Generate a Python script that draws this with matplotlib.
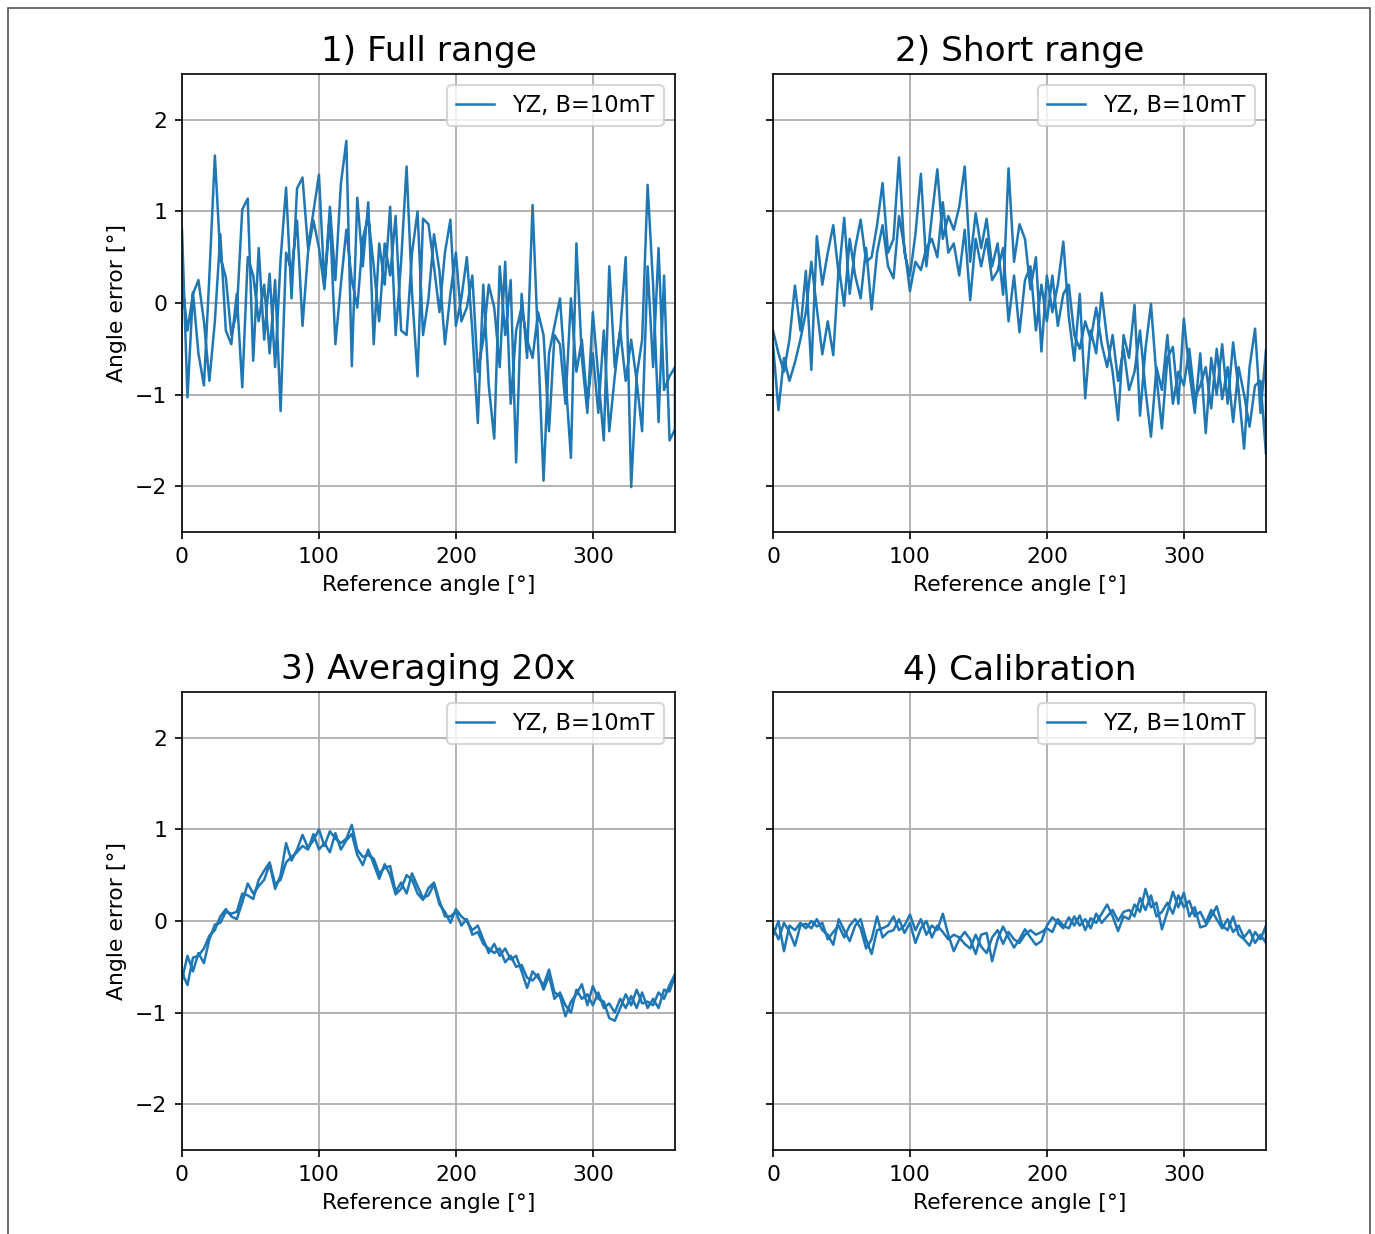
import numpy as np
import matplotlib.pyplot as plt
from matplotlib.patches import Rectangle

# reference angle grid of one sweep (deg)
angles = list(range(0, 361, 4))

# 1) full range: forward sweep / return sweep (return stored in ascending angle order)
full_fwd = [0.80, -1.03, 0.12, -0.55, -0.90, 0.30, 1.61, 0.50, 0.28, -0.35,
            -0.10, 1.02, 1.14, -0.63, 0.60, -0.40, 0.32, -0.70, 0.48, 1.26,
            0.05, 1.25, 1.37, 0.60, 1.00, 1.40, 0.20, 1.05, 0.25, 1.30,
            1.77, -0.69, 1.15, 0.40, 1.10, -0.45, 0.65, 0.20, 1.05, -0.35,
            0.45, 1.49, 0.10, -0.80, 0.92, 0.86, 0.40, -0.10, 0.55, 0.91,
            -0.25, 0.05, 0.50, -0.30, -1.31, 0.20, -0.90, -1.48, 0.40, -0.35,
            0.25, -1.74, 0.10, -0.60, 1.07, -0.45, -1.94, -0.55, -0.25, 0.05,
            -0.80, -1.69, 0.65, -0.60, -1.20, -0.10, -0.80, -1.50, 0.40, -0.70,
            -0.30, 0.50, -2.01, -0.80, -0.40, 1.29, 0.20, -1.30, 0.30, -1.50,
            -1.38]
full_ret = [0.25, -0.30, 0.10, 0.25, -0.20, -0.85, -0.20, 0.75, -0.30, -0.45,
            0.10, -0.92, 0.50, 0.30, -0.20, 0.20, -0.55, 0.25, -1.18, 0.55,
            0.35, 0.90, -0.25, 0.55, 0.90, 0.60, 0.15, 0.95, -0.45, 0.20,
            0.80, 0.25, -0.05, 0.70, 0.95, 0.40, -0.20, 0.65, 0.30, 0.95,
            -0.30, -0.35, 0.55, 1.00, -0.35, 0.05, 0.75, 0.35, -0.45, 0.10,
            0.55, -0.20, -0.05, 0.30, -0.75, -0.40, 0.20, -0.05, -0.70, 0.45,
            -1.10, -0.30, -0.05, -0.40, -0.60, -0.10, -0.35, -1.40, -0.35, -0.45,
            -1.10, 0.05, -0.75, -0.40, -1.10, -0.55, -1.20, -0.30, -1.40, -0.80,
            -0.30, -0.85, -0.40, -0.85, -1.40, 0.40, -0.70, 0.60, -0.95, -0.80,
            -0.70]

# 2) short range
short_fwd = [-0.30, -0.55, -0.75, -0.40, 0.19, -0.30, 0.35, -0.73, 0.73, 0.20,
             0.55, 0.85, 0.30, 0.93, 0.10, 0.60, 0.91, 0.45, 0.50, 0.85,
             1.31, 0.55, 0.70, 1.59, 0.55, 0.30, 0.75, 1.41, 0.40, 0.95,
             1.46, 0.70, 0.95, 0.80, 1.05, 1.49, 0.45, 0.98, 0.60, 0.92,
             0.40, 0.65, 0.09, 1.47, 0.45, 0.86, 0.70, 0.15, 0.50, -0.53,
             0.30, -0.10, 0.20, 0.67, -0.15, -0.63, 0.10, -1.04, -0.30, -0.55,
             0.11, -0.40, -0.75, -1.28, -0.35, -0.60, -0.02, -1.23, -0.50, -0.01,
             -0.80, -1.37, -0.60, -0.48, -1.10, -0.17, -0.75, -1.20, -0.55, -1.42,
             -0.60, -1.00, -0.45, -1.10, -0.43, -0.95, -1.59, -0.70, -0.28, -1.20,
             -0.51]
short_ret = [-0.45, -1.17, -0.60, -0.85, -0.65, -0.40, -0.10, 0.45, -0.05, -0.56,
             -0.20, -0.57, 0.40, -0.03, 0.70, 0.30, 0.05, 0.60, -0.07, 0.55,
             0.85, 0.40, 0.27, 0.95, 0.60, 0.13, 0.45, 0.36, 0.60, 0.70,
             0.50, 1.10, 0.55, 0.65, 0.30, 0.80, 0.03, 0.70, 0.40, 0.70,
             0.25, 0.35, 0.60, -0.20, 0.30, -0.32, 0.25, 0.40, -0.30, 0.20,
             -0.20, 0.30, -0.25, 0.10, 0.20, -0.35, -0.50, -0.20, -0.40, -0.05,
             -0.45, -0.70, -0.35, -0.85, -0.50, -0.95, -0.75, -0.30, -0.95, -1.46,
             -0.70, -0.95, -0.35, -1.10, -0.75, -0.90, -0.50, -1.05, -0.90, -0.70,
             -1.15, -0.50, -1.05, -0.70, -1.30, -0.70, -1.00, -1.35, -0.90, -0.85,
             -1.65]

# 3) averaging 20x
avg_fwd = [-0.56, -0.70, -0.40, -0.38, -0.30, -0.16, -0.10, 0.05, 0.13, 0.05,
           0.02, 0.20, 0.41, 0.30, 0.38, 0.45, 0.62, 0.35, 0.50, 0.85,
           0.66, 0.78, 0.94, 0.80, 0.88, 1.00, 0.82, 0.98, 0.90, 0.85,
           0.90, 1.05, 0.78, 0.70, 0.72, 0.68, 0.52, 0.58, 0.60, 0.32,
           0.42, 0.30, 0.52, 0.38, 0.25, 0.28, 0.40, 0.18, 0.10, -0.02,
           0.13, 0.05, 0.00, -0.10, -0.05, -0.20, -0.35, -0.25, -0.38, -0.30,
           -0.42, -0.38, -0.55, -0.73, -0.55, -0.62, -0.70, -0.53, -0.78, -0.82,
           -1.04, -0.88, -0.80, -0.69, -0.92, -0.71, -0.85, -0.88, -1.06, -1.09,
           -0.95, -0.80, -0.92, -0.75, -0.90, -0.88, -0.92, -0.78, -0.85, -0.70,
           -0.58]
avg_ret = [-0.64, -0.38, -0.55, -0.35, -0.46, -0.20, -0.04, -0.02, 0.10, 0.08,
           0.10, 0.30, 0.28, 0.24, 0.45, 0.55, 0.64, 0.40, 0.45, 0.64,
           0.70, 0.75, 0.82, 0.78, 0.95, 0.78, 0.85, 0.75, 0.96, 0.78,
           0.88, 0.95, 0.72, 0.61, 0.78, 0.62, 0.46, 0.62, 0.50, 0.29,
           0.35, 0.50, 0.45, 0.30, 0.23, 0.36, 0.42, 0.22, 0.05, 0.05,
           0.10, -0.05, 0.02, -0.15, -0.12, -0.25, -0.30, -0.35, -0.30, -0.45,
           -0.38, -0.50, -0.48, -0.62, -0.65, -0.58, -0.75, -0.60, -0.85, -0.78,
           -0.92, -1.00, -0.75, -0.85, -0.80, -0.92, -0.78, -0.95, -0.90, -1.00,
           -0.85, -0.95, -0.82, -0.95, -0.78, -0.95, -0.85, -0.95, -0.75, -0.77,
           -0.60]

# 4) calibration
cal_fwd = [-0.07, -0.20, -0.02, -0.12, -0.27, -0.05, -0.03, -0.08, 0.02, -0.10,
           -0.15, -0.26, 0.02, -0.10, -0.22, -0.05, 0.02, -0.20, -0.36, -0.10,
           -0.08, -0.05, 0.05, -0.10, -0.05, 0.07, -0.10, 0.02, -0.15, -0.05,
           -0.10, 0.08, -0.15, -0.33, -0.20, -0.12, -0.20, -0.36, -0.15, -0.13,
           -0.44, -0.20, -0.06, -0.18, -0.29, -0.20, -0.09, -0.18, -0.26, -0.22,
           -0.05, 0.04, -0.02, -0.08, 0.04, -0.05, 0.06, -0.10, 0.03, -0.02,
           0.08, 0.18, 0.05, -0.11, 0.05, 0.02, 0.18, 0.10, 0.35, 0.15,
           0.20, -0.09, 0.10, 0.32, 0.15, 0.31, 0.05, 0.15, -0.07, -0.05,
           0.05, 0.16, -0.05, -0.10, 0.05, -0.15, -0.20, -0.27, -0.12, -0.20,
           -0.05]
cal_ret = [-0.16, 0.00, -0.33, -0.05, -0.10, -0.02, -0.08, 0.00, -0.06, -0.02,
           -0.20, -0.12, -0.05, -0.18, -0.05, 0.02, -0.08, -0.30, -0.20, 0.05,
           -0.18, -0.12, -0.10, 0.02, -0.13, -0.02, -0.24, -0.08, 0.00, -0.18,
           -0.05, -0.12, -0.20, -0.15, -0.18, -0.25, -0.30, -0.15, -0.28, -0.35,
           -0.18, -0.10, -0.25, -0.12, -0.20, -0.24, -0.15, -0.10, -0.15, -0.12,
           -0.08, -0.12, 0.02, -0.05, -0.08, 0.05, -0.05, 0.02, -0.08, 0.08,
           -0.02, 0.05, 0.12, 0.00, 0.10, 0.12, 0.05, 0.25, 0.12, 0.28,
           0.05, 0.10, 0.20, 0.08, 0.28, 0.15, 0.22, 0.05, 0.10, -0.02,
           0.12, 0.02, -0.08, 0.02, -0.12, -0.05, -0.18, -0.10, -0.24, -0.15,
           -0.24]

titles = ['1) Full range', '2) Short range', '3) Averaging 20x', '4) Calibration']
runs = [(full_fwd, full_ret), (short_fwd, short_ret),
        (avg_fwd, avg_ret), (cal_fwd, cal_ret)]

plt.rcParams['font.size'] = 10.5

fig = plt.figure(figsize=(1375 / 150, 1234 / 150), dpi=150)
lefts = [182 / 1375, 773 / 1375]
bottoms = [1 - 532 / 1234, 1 - 1150 / 1234]
w = 493 / 1375
h = 458 / 1234

axes = []
for i, (title, (fwd, ret)) in enumerate(zip(titles, runs)):
    r, c = divmod(i, 2)
    ax = fig.add_axes([lefts[c], bottoms[r], w, h],
                      sharey=axes[0] if axes else None)
    axes.append(ax)
    # out and back in one trace
    x = angles + angles[::-1]
    y = fwd + ret[::-1]
    ax.plot(x, y, color='#1f77b4', lw=1.2, label='YZ, B=10mT')
    ax.set_xlim(0, 360)
    ax.set_ylim(-2.5, 2.5)
    ax.set_xticks([0, 100, 200, 300])
    ax.set_yticks([-2, -1, 0, 1, 2])
    ax.grid(True, color='#b0b0b0', lw=0.9)
    ax.set_title(title, fontsize=16.5)
    ax.set_xlabel('Reference angle [°]')
    if c == 0:
        ax.set_ylabel('Angle error [°]')
    else:
        ax.tick_params(labelleft=False)
    ax.legend(loc='upper right', fontsize=10.8, handlelength=1.7)

# page frame
fig.patches.append(Rectangle((8 / 1375, -0.05), 1362 / 1375, 1.05 - 8 / 1234,
                             transform=fig.transFigure, fill=False,
                             edgecolor='#555555', lw=0.8))

fig.savefig('out.png', dpi=150)
